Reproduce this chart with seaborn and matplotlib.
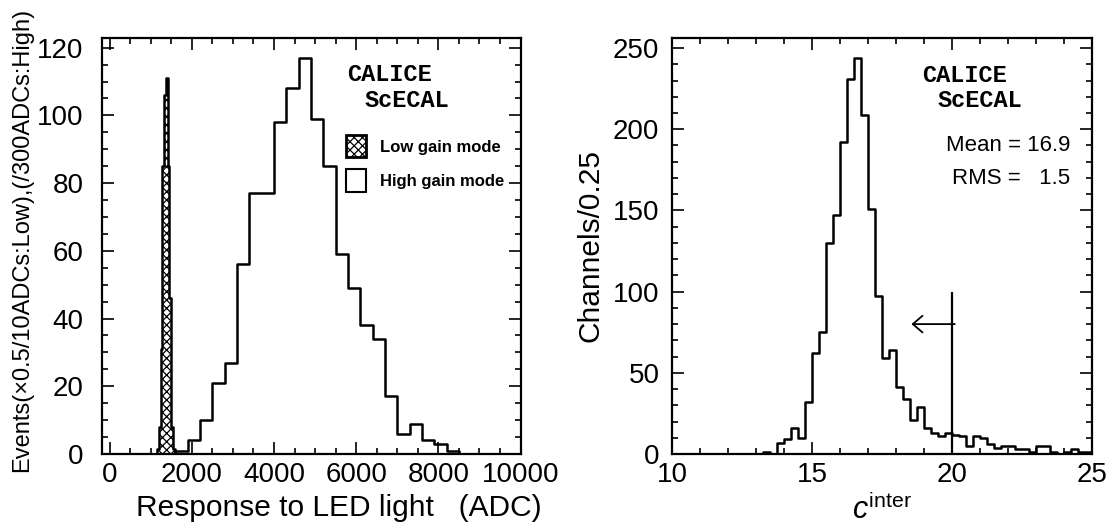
import numpy as np
import pandas as pd
import matplotlib
matplotlib.use('Agg')
import matplotlib.pyplot as plt
import seaborn as sns
from matplotlib.patches import Patch
from matplotlib.ticker import MultipleLocator

# ─── Data ─────────────────────────────────────────────────────────────────────
# left: response to LED light (ADC)
LOW_EDGES   = [1150, 1190, 1240, 1280, 1320, 1360, 1420, 1450, 1480, 1500, 1540, 1600]
LOW_COUNTS  = [1.5, 8, 31, 85, 106, 111, 85, 46, 31, 8, 1.5]
HIGH_EDGES  = list(range(-200, 10001, 300))        # 34 bins of 300 ADC
HIGH_COUNTS = [0, 0, 0, 0, 0, 0, 1, 4, 10, 21, 27, 56, 77, 77, 98, 108, 117,
               99, 85, 59, 49, 38, 34, 17, 6, 9, 4, 3, 1, 0, 0, 0, 0, 0]

# right: c_inter distribution (bins of 0.25)
C_EDGES  = [10 + 0.25 * i for i in range(61)]
C_COUNTS = [0] * 13 + [1, 0, 7, 9, 16, 10, 32, 62, 75, 130,
                       147, 192, 231, 244, 209, 151, 97, 59, 64, 41,
                       34, 21, 29, 16, 13, 11, 13, 12, 11, 5,
                       11, 10, 6, 4, 5, 5, 3, 3, 1, 5,
                       5, 1, 0, 1, 3, 1, 1]
C_MEAN, C_RMS = 16.9, 1.5
CUT, CUT_TOP, ARROW_Y, ARROW_TIP = 20, 100, 80, 18.55

LEGEND_LABELS = ['Low gain mode', 'High gain mode']

# ─── Style ────────────────────────────────────────────────────────────────────
sns.set_theme(style='ticks')
plt.rcParams['font.family'] = ['Liberation Sans', 'DejaVu Sans']
plt.rcParams['mathtext.fontset'] = 'custom'
plt.rcParams['mathtext.rm'] = 'Liberation Sans'
plt.rcParams['mathtext.it'] = 'Liberation Sans:italic'
plt.rcParams['text.color'] = 'black'
plt.rcParams['axes.labelcolor'] = 'black'
plt.rcParams['axes.edgecolor'] = 'black'
plt.rcParams['xtick.color'] = 'black'
plt.rcParams['ytick.color'] = 'black'
plt.rcParams['hatch.linewidth'] = 0.9

W, H = 1116, 529
fig = plt.figure(figsize=(W / 100, H / 100), dpi=100)
ax1 = fig.add_axes([101.5 / W, 1 - 454 / H, 419 / W, 416 / H])
ax2 = fig.add_axes([672 / W, 1 - 454 / H, 420 / W, 416 / H])


def hist_frame(edges, counts):
    e = np.asarray(edges, dtype=float)
    return pd.DataFrame({'x': (e[:-1] + e[1:]) / 2, 'w': counts})


def style_axis(ax, xmaj, xmin, ymaj, ymin, ypad):
    ax.xaxis.set_major_locator(MultipleLocator(xmaj))
    ax.xaxis.set_minor_locator(MultipleLocator(xmin))
    ax.yaxis.set_major_locator(MultipleLocator(ymaj))
    ax.yaxis.set_minor_locator(MultipleLocator(ymin))
    ax.tick_params(which='both', direction='in', top=True, right=True,
                   width=1.2, colors='black')
    ax.tick_params(which='major', length=8.5, labelsize=20)
    ax.tick_params(which='minor', length=4.2)
    ax.tick_params(axis='x', pad=6)
    ax.tick_params(axis='y', pad=ypad)
    for s in ax.spines.values():
        s.set_linewidth(1.6)
    ax.set_xlabel('')
    ax.set_ylabel('')


# ─── Left panel ───────────────────────────────────────────────────────────────
sns.histplot(data=hist_frame(HIGH_EDGES, HIGH_COUNTS), x='x', weights='w',
             bins=HIGH_EDGES, element='step', fill=False, color='black',
             linewidth=1.8, ax=ax1)
sns.histplot(data=hist_frame(LOW_EDGES, LOW_COUNTS), x='x', weights='w',
             bins=LOW_EDGES, element='step', fill=True, facecolor='white',
             edgecolor='black', hatch='xxxx', linewidth=1.8, alpha=1, ax=ax1)
ax1.set_xlim(HIGH_EDGES[0], HIGH_EDGES[-1])
ax1.set_ylim(0, max(HIGH_COUNTS) * 1.05)
style_axis(ax1, 2000, 500, 20, 5, 13)

for x, y, s in [(0.587, 0.913, 'CALICE'), (0.627, 0.850, 'ScECAL')]:
    ax1.text(x, y, s, transform=ax1.transAxes, family='Liberation Mono',
             weight='bold', fontsize=17, va='center', ha='left')

handles = [Patch(facecolor='white', edgecolor='black', hatch='xxxx',
                 linewidth=2, label=LEGEND_LABELS[0]),
           Patch(facecolor='white', edgecolor='black', linewidth=1.5,
                 label=LEGEND_LABELS[1])]
ax1.legend(handles=handles, loc='upper left', bbox_to_anchor=(0.584, 0.767),
           frameon=False, prop=dict(weight='bold', size=12),
           handlelength=1.16, handleheight=1.7, handletextpad=0.84,
           labelspacing=0.7, borderpad=0, borderaxespad=0)

# ─── Right panel ──────────────────────────────────────────────────────────────
sns.histplot(data=hist_frame(C_EDGES, C_COUNTS), x='x', weights='w',
             bins=C_EDGES, element='step', fill=False, color='black',
             linewidth=1.8, ax=ax2)
ax2.set_xlim(C_EDGES[0], C_EDGES[-1])
ax2.set_ylim(0, max(C_COUNTS) * 1.05)
style_axis(ax2, 5, 1, 50, 10, 9)

ax2.vlines(CUT, 0, CUT_TOP, color='black', linewidth=1.6)
ax2.annotate('', xy=(ARROW_TIP, ARROW_Y), xytext=(CUT + 0.1, ARROW_Y),
             arrowprops=dict(arrowstyle='->,head_length=0.35,head_width=0.3',
                             color='black', lw=1.3, mutation_scale=20,
                             shrinkA=0, shrinkB=0))

for x, y, s in [(0.595, 0.911, 'CALICE'), (0.633, 0.850, 'ScECAL')]:
    ax2.text(x, y, s, transform=ax2.transAxes, family='Liberation Mono',
             weight='bold', fontsize=17, va='center', ha='left')
ax2.text(0.948, 0.741, f'Mean = {C_MEAN:.1f}', transform=ax2.transAxes,
         ha='right', va='center', fontsize=16)
ax2.text(0.948, 0.662, f'RMS =   {C_RMS:.1f}', transform=ax2.transAxes,
         ha='right', va='center', fontsize=16)

# ─── Axis titles ──────────────────────────────────────────────────────────────
fig.text(22.5 / W, 1 - 240 / H, 'Events(\u00d70.5/10ADCs:Low),(/300ADCs:High)',
         rotation=90, ha='center', va='center', fontsize=17)
fig.text(591 / W, 1 - 246 / H, 'Channels/0.25', rotation=90,
         ha='center', va='center', fontsize=21.5)
fig.text(136 / W, 1 - 516 / H, 'Response to LED light   (ADC)',
         ha='left', va='baseline', fontsize=21.5)
fig.text(882 / W, 1 - 519 / H, r'$c^{\mathrm{inter}}$',
         ha='center', va='baseline', fontsize=22)

fig.savefig('out.png', dpi=100)
